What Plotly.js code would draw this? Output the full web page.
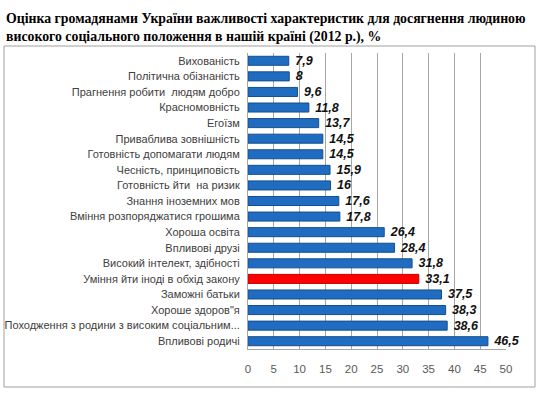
<!DOCTYPE html>
<html><head><meta charset="utf-8">
<script src="https://cdn.plot.ly/plotly-3.0.1.min.js"></script>
<style>html,body{margin:0;padding:0;background:#fff}#chart{width:560px;height:397px}</style>
</head><body><div id="chart"></div>
<script>
const categories = [
  "Вихованість",
  "Політична обізнаність",
  "Прагнення робити  людям добро",
  "Красномовність",
  "Егоїзм",
  "Приваблива зовнішність",
  "Готовність допомагати людям",
  "Чесність, принциповість",
  "Готовність йти  на ризик",
  "Знання іноземних мов",
  "Вміння розпоряджатися грошима",
  "Хороша освіта",
  "Впливові друзі",
  "Високий інтелект, здібності",
  "Уміння йти іноді в обхід закону",
  "Заможні батьки",
  "Хороше здоров\"я",
  "Походження з родини з високим соціальним...",
  "Впливові родичі"
];
const values = [7.9, 8, 9.6, 11.8, 13.7, 14.5, 14.5, 15.9, 16, 17.6, 17.8, 26.4, 28.4, 31.8, 33.1, 37.5, 38.3, 38.6, 46.5];
const highlighted = "Уміння йти іноді в обхід закону";
const xTicks = [0, 5, 10, 15, 20, 25, 30, 35, 40, 45, 50];

const colors = categories.map(c => c === highlighted ? "#ff0000" : "#1f6cc1");
const lines = categories.map(c => c === highlighted ? "#c00000" : "#134f8f");
const labels = values.map(v => " " + String(v).replace(".", ","));

const trace = {
  type: "bar",
  orientation: "h",
  y: categories,
  x: values,
  marker: {color: colors, line: {color: lines, width: 1}},
  text: labels,
  textposition: "outside",
  constraintext: "none",
  cliponaxis: false,
  textfont: {family: "Liberation Sans, Arial, sans-serif", size: 12.5, color: "#111", weight: "bold", style: "italic"},
  hoverinfo: "x+y"
};

const pl = 248, pr = 506, pt = 53, pb = 349;
const W = 560, H = 397;
const pw = pr - pl, ph = pb - pt;
function px2x(p){return (p - pl) / pw;}
function py2y(p){return (pb - p) / ph;}

const layout = {
  width: W, height: H,
  margin: {l: pl, r: W - pr, t: pt, b: H - pb, pad: 0},
  paper_bgcolor: "#fff", plot_bgcolor: "#fff",
  showlegend: false,
  bargap: 0.42,
  title: {
    text: "<b>Оцінка громадянами України важливості характеристик для досягнення людиною<br>високого соціального положення в нашій країні (2012 р.), %</b>",
    x: 6 / W, xanchor: "left", xref: "container",
    y: 1 - 23 / H, yanchor: "middle", yref: "container",
    font: {family: "Liberation Serif, Times New Roman, serif", size: 13.8, color: "#000"}
  },
  xaxis: {
    range: [0, 50],
    tickvals: xTicks,
    ticktext: xTicks.map(String),
    showgrid: true, gridcolor: "#a6a6a6", gridwidth: 1,
    zeroline: false,
    showline: true, linecolor: "#a6a6a6",
    ticks: "", ticklabelstandoff: 9,
    tickfont: {family: "Liberation Sans, Arial, sans-serif", size: 11.5, color: "#595959"},
    fixedrange: true
  },
  yaxis: {
    type: "category",
    autorange: "reversed",
    showgrid: false, zeroline: false,
    showline: true, linecolor: "#a6a6a6",
    ticks: "", ticklabelstandoff: 5,
    tickfont: {family: "Liberation Sans, Arial, sans-serif", size: 11, color: "#404040"},
    fixedrange: true
  },
  shapes: [{
    type: "rect", xref: "paper", yref: "paper",
    x0: px2x(4), x1: px2x(535), y0: py2y(387), y1: py2y(46),
    line: {color: "#a0a0a0", width: 1}, fillcolor: "rgba(0,0,0,0)", layer: "below"
  }]
};

Plotly.newPlot("chart", [trace], layout, {displayModeBar: false, staticPlot: true});
</script>
</body></html>
